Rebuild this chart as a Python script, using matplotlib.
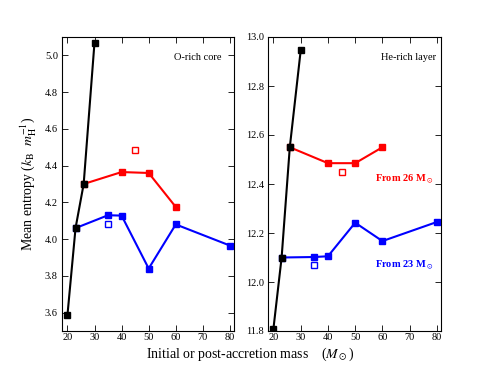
import matplotlib.pyplot as plt

plt.rcParams['font.family'] = ['Liberation Serif', 'DejaVu Serif']
plt.rcParams['mathtext.fontset'] = 'stix'

# O-rich core (left panel)
core_black_m = [20, 23, 26, 30]
core_black_s = [3.585, 4.06, 4.30, 5.07]
core_red_m = [26, 40, 50, 60]
core_red_s = [4.30, 4.365, 4.36, 4.175]
core_red_open = (45, 4.485)
core_blue_m = [23, 35, 40, 50, 60, 80]
core_blue_s = [4.06, 4.13, 4.128, 3.84, 4.08, 3.965]
core_blue_open = (35, 4.08)

# He-rich layer (right panel)
he_black_m = [20, 23, 26, 30]
he_black_s = [11.81, 12.10, 12.55, 12.945]
he_red_m = [26, 40, 50, 60]
he_red_s = [12.55, 12.485, 12.485, 12.55]
he_red_open = (45, 12.447)
he_blue_m = [23, 35, 40, 50, 60, 80]
he_blue_s = [12.10, 12.102, 12.105, 12.242, 12.167, 12.245]
he_blue_open = (35, 12.07)

fig = plt.figure(figsize=(4.91, 3.68), dpi=100)
ax1 = fig.add_axes([62 / 491, 1 - 331 / 368, 172 / 491, 294 / 368])
ax2 = fig.add_axes([268 / 491, 1 - 331 / 368, 173 / 491, 294 / 368])


def draw(ax, bm, bs, rm, rs, ropen, um, us, uopen):
    ax.plot(rm, rs, '-s', color='red', lw=1.5, ms=4, zorder=2)
    ax.plot(um, us, '-s', color='blue', lw=1.5, ms=4, zorder=2)
    ax.plot(bm, bs, '-s', color='black', lw=1.5, ms=4, zorder=3)
    ax.plot([ropen[0]], [ropen[1]], 's', mfc='white', mec='red', mew=1.0, ms=4)
    ax.plot([uopen[0]], [uopen[1]], 's', mfc='white', mec='blue', mew=1.0, ms=4)
    ax.set_xlim(18, 81.5)
    ax.set_xticks([20, 30, 40, 50, 60, 70, 80])
    ax.tick_params(direction='in', top=True, right=True, labelsize=7.5,
                   length=4, width=0.6, pad=3)
    ax.tick_params(axis='x', pad=1.5)
    for sp in ax.spines.values():
        sp.set_linewidth(0.8)


draw(ax1, core_black_m, core_black_s, core_red_m, core_red_s, core_red_open,
     core_blue_m, core_blue_s, core_blue_open)
ax1.set_ylim(3.5, 5.1)
ax1.set_yticks([3.6, 3.8, 4.0, 4.2, 4.4, 4.6, 4.8, 5.0])
ax1.set_yticklabels(['3.6', '3.8', '4.0', '4.2', '4.4', '4.6', '4.8', '5.0'])
ax1.text(0.93, 0.93, 'O-rich core', transform=ax1.transAxes, ha='right',
         va='center', fontsize=7.5)
ax1.set_ylabel(r'Mean entropy ($k_\mathrm{B}\ \ m_\mathrm{H}^{-1}$)', fontsize=10)

draw(ax2, he_black_m, he_black_s, he_red_m, he_red_s, he_red_open,
     he_blue_m, he_blue_s, he_blue_open)
ax2.set_ylim(11.8, 13.0)
ax2.set_yticks([11.8, 12.0, 12.2, 12.4, 12.6, 12.8, 13.0])
ax2.set_yticklabels(['11.8', '12.0', '12.2', '12.4', '12.6', '12.8', '13.0'])
ax2.text(0.97, 0.93, 'He-rich layer', transform=ax2.transAxes, ha='right',
         va='center', fontsize=7.5)
ax2.text(0.954, 0.517, r'From 26 M$_\odot$', transform=ax2.transAxes, ha='right',
         va='center', fontsize=7.5, color='red', fontweight='bold')
ax2.text(0.954, 0.224, r'From 23 M$_\odot$', transform=ax2.transAxes, ha='right',
         va='center', fontsize=7.5, color='blue', fontweight='bold')

fig.text(0.51, 1 - 354 / 368, r'Initial or post-accretion mass    ($M_\odot$)',
         ha='center', va='center', fontsize=10)

fig.savefig('out.png', dpi=100)
